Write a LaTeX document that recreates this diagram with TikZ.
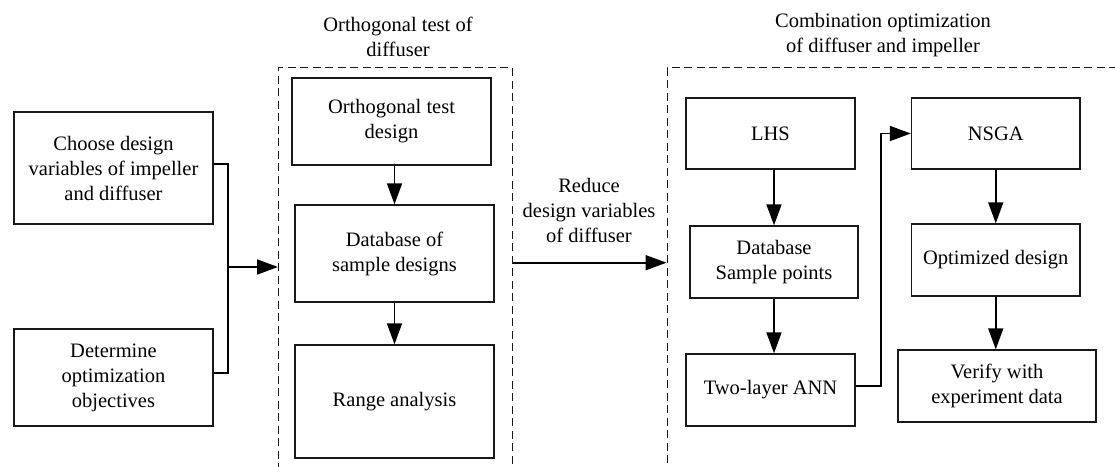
\documentclass[tikz,border=0pt]{standalone}
\usepackage{fontspec}
\setmainfont{Liberation Serif}
\newfontfamily\boxface{Liberation Serif}
\usetikzlibrary{arrows.meta}
\begin{document}
\begin{tikzpicture}[x=1pt,y=-1pt,
  txt/.style={font=\boxface\fontsize{20.5}{25}\selectfont},
  box/.style={txt, draw=black!90, line width=1.4pt, rectangle, inner sep=0pt, align=center},
  lbl/.style={txt, inner sep=0pt, align=center},
  frame/.style={draw=black!90, line width=1.2pt, dash pattern=on 8pt off 4.5pt, inner sep=0pt},
  link/.style={draw=black, line width=1.7pt},
  arr/.style={link, -{Triangle[length=21pt,width=15pt]}}]
\useasboundingbox (0,0) rectangle (1115,466);
\clip (0,0) rectangle (1115,466);

% group frames (open towards the lower and right edges)
\node[frame, minimum width=233.5pt, minimum height=450pt, anchor=north west] (g1) at (278,67) {};
\node[frame, minimum width=500pt, minimum height=450pt, anchor=north west] (g2) at (666.5,67) {};

% group titles
\node[lbl] (t1) at (398,37) {Orthogonal test of\\diffuser};
\node[lbl] (t2) at (883,35) {Combination optimization\\of diffuser and impeller};

% inputs
\node[box, minimum width=199pt, minimum height=112pt] (choose) at (113.5,168) {Choose design\\variables of impeller\\and diffuser};
\node[box, minimum width=199pt, minimum height=97pt] (determine) at (113.5,377.5) {Determine\\optimization\\objectives};

% orthogonal test of the diffuser
\node[box, minimum width=199pt, minimum height=87pt] (otd) at (391.5,121.5) {Orthogonal test\\design};
\node[box, minimum width=199pt, minimum height=97pt] (dbs) at (394.5,253.5) {Database of\\sample designs};
\node[box, minimum width=199pt, minimum height=113pt] (range) at (394.5,401.5) {Range analysis};

% combined optimisation
\node[box, minimum width=169pt, minimum height=71pt] (lhs) at (770.5,133.5) {LHS};
\node[box, minimum width=168pt, minimum height=72pt] (dsp) at (774,262) {Database\\Sample points};
\node[box, minimum width=169pt, minimum height=72pt] (ann) at (770.5,390) {Two-layer ANN};
\node[box, minimum width=168.5pt, minimum height=71pt] (nsga) at (995.75,133.5) {NSGA};
\node[box, minimum width=168.5pt, minimum height=72pt] (opt) at (995.75,260) {Optimized design};
\node[box, minimum width=198pt, minimum height=72pt] (verify) at (997,386) {Verify with\\experiment data};

% label between the groups
\node[lbl] (reduce) at (589,210) {Reduce\\design variables\\of diffuser};

% connectors
\coordinate (junction) at (228,267);
\coordinate (rmid) at (589,262.7);
\draw[link] ([yshift=4pt]choose.east) -| (junction) |- ([yshift=4.5pt]determine.east);
\draw[arr] (junction) -- (junction -| g1.west);
\draw[arr] (rmid -| g1.east) -- (rmid -| g2.west);

\draw[arr] (dbs.north |- otd.south) -- (dbs.north);
\draw[arr] (dbs.south) -- (range.north);

\draw[arr] (dsp.north |- lhs.south) -- (dsp.north);
\draw[arr] (dsp.south) -- (dsp.south |- ann.north);
\draw[arr] ([yshift=4pt]ann.east) -| ([xshift=-30pt]nsga.west) -- (nsga.west);
\draw[arr] (nsga.south) -- (opt.north);
\draw[arr] (opt.south) -- (opt.south |- verify.north);
\end{tikzpicture}
\end{document}
